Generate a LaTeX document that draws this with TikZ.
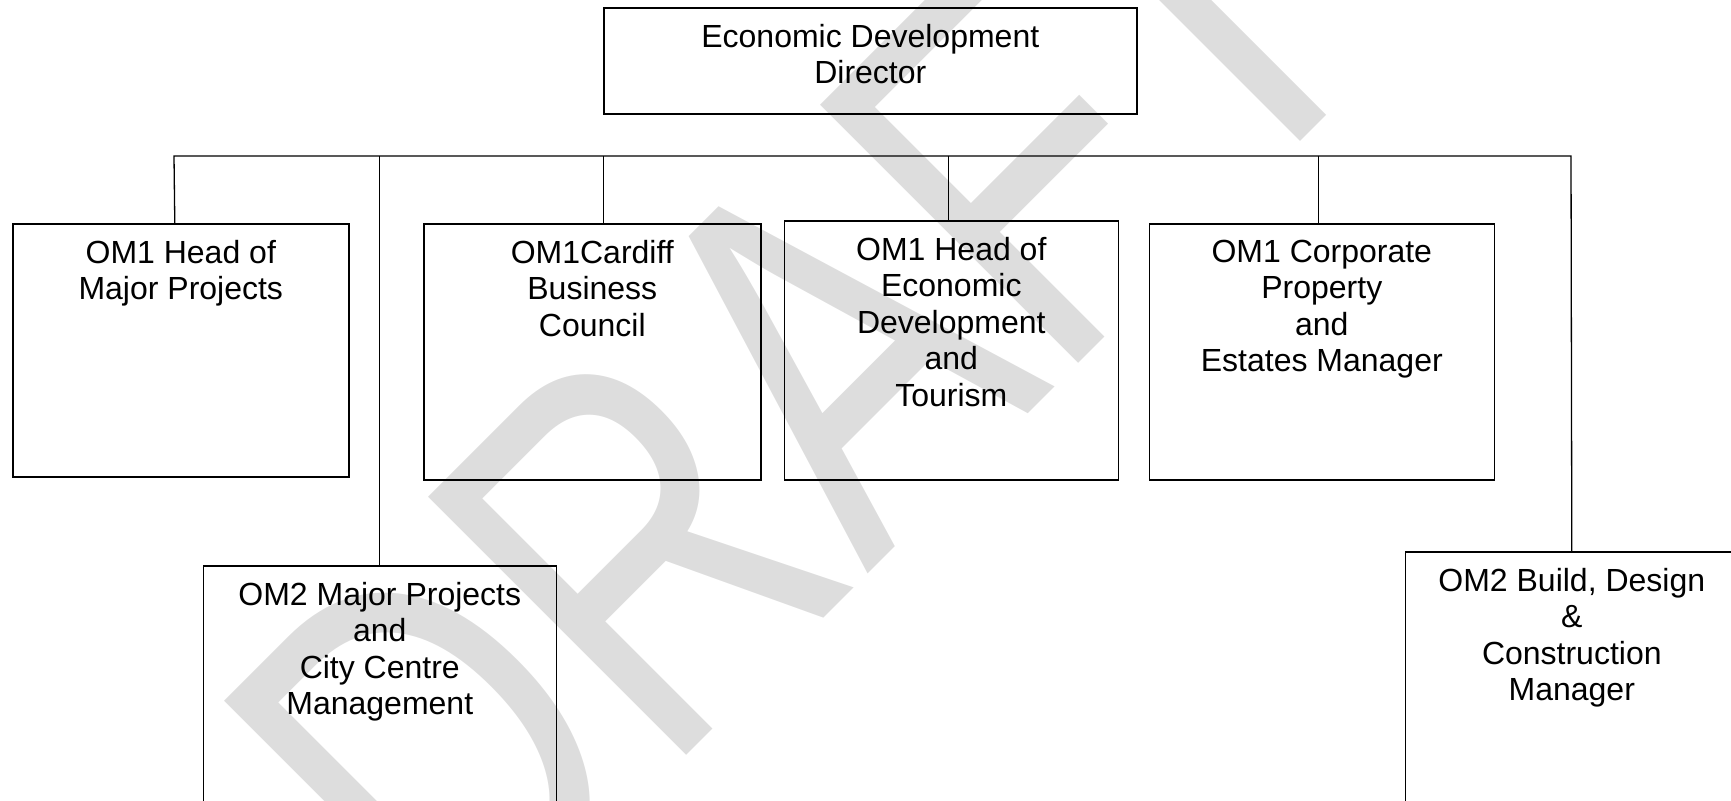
\documentclass[tikz,border=0pt]{standalone}
\usepackage{fontspec}
\setmainfont{Liberation Sans}
\usepackage{tikz}
\usetikzlibrary{positioning}
\definecolor{markgray}{RGB}{221,221,221}

\begin{document}
\begin{tikzpicture}[x=1pt,y=-1pt,
  post/.style={draw,line width=1.6pt,anchor=north west,inner sep=0pt},
  title/.style={align=center,inner sep=0pt,font=\fontsize{32}{36.5}\selectfont},
  link/.style={line width=1.3pt},
  draft/.style={anchor=base west,inner sep=0pt,rotate=45,yscale=1.33,transform shape,text=markgray,font=\fontsize{399}{399}\selectfont}]
 \useasboundingbox (0,0) rectangle (1731,800);
 \clip (0,0) rectangle (1731,800);
 % watermark behind the chart
 \node[draft] (mark) at (459.5,982.5) {DRAFT};
 % boxes
 \node[post,minimum width=533pt,minimum height=106pt] (ecodir) at (603,7) {};
 \node[post,minimum width=336pt,minimum height=253pt] (majhead) at (12,223) {};
 \node[post,minimum width=337pt,minimum height=256pt] (cardiff) at (423,223) {};
 \node[post,minimum width=334pt,minimum height=259pt] (ecohead) at (783.5,220) {};
 \node[post,minimum width=345pt,minimum height=256pt] (corprop) at (1148.5,223) {};
 \node[post,minimum width=353pt,minimum height=270pt] (majcity) at (202.5,565) {};
 \node[post,minimum width=333pt,minimum height=290pt] (build) at (1404.5,551) {};
 % titles
 \node[title,below=16.8pt of ecodir.north] (ecodir-t) {Economic Development\\Director};
 \node[title,below=16.8pt of majhead.north] (majhead-t) {OM1 Head of\\Major Projects};
 \node[title,below=16.8pt of cardiff.north] (cardiff-t) {OM1Cardiff\\Business\\Council};
 \node[title,below=16.8pt of ecohead.north] (ecohead-t) {OM1 Head of\\Economic\\Development\\and\\Tourism};
 \node[title,below=16.8pt of corprop.north] (corprop-t) {OM1 Corporate\\Property\\and\\Estates Manager};
 \node[title,below=16.8pt of majcity.north] (majcity-t) {OM2 Major Projects\\and\\City Centre\\Management};
 \node[title,below=16.8pt of build.north] (build-t) {OM2 Build, Design\\\&\\Construction\\Manager};
 % bus and drops
 \coordinate (busL) at (174,156);
 \coordinate (busR) at (1571,156);
 \draw[link] ([xshift=-6pt]majhead.north) -- (busL) -- (busR) -- (build.north);
 \draw[link] ([xshift=11pt]cardiff.north) -- ([xshift=11pt]cardiff.north |- busL);
 \draw[link] ([xshift=-3pt]ecohead.north) -- ([xshift=-3pt]ecohead.north |- busL);
 \draw[link] ([xshift=-3pt]corprop.north) -- ([xshift=-3pt]corprop.north |- busL);
 \draw[link] (majcity.north |- busL) -- (majcity.north);
\end{tikzpicture}
\end{document}
